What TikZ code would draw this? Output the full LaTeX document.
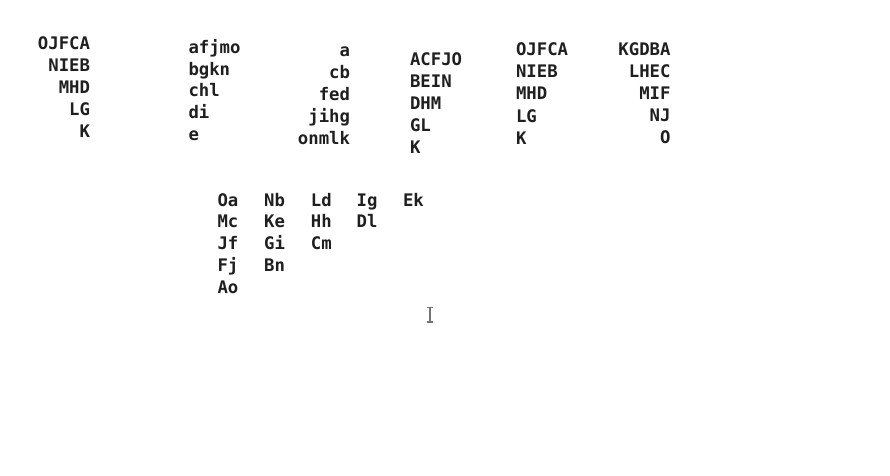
\documentclass[tikz,border=0pt]{standalone}
\usepackage{fontspec}
\newfontfamily\monob{DejaVu Sans Mono}[BoldFont={DejaVu Sans Mono Bold}]
\begin{document}
\begin{tikzpicture}[x=1pt,y=-1pt,
  txt/.style={inner sep=0pt,outer sep=0pt,font=\monob\bfseries\fontsize{17.3pt}{22pt}\selectfont,text=black!88},
  rt/.style={txt,anchor=base east},
  lt/.style={txt,anchor=base west},
  cursorline/.style={draw=black!55,line width=1.1pt}]
\useasboundingbox[fill=white] (0,0) rectangle (890,475);
% block 1 (right aligned)
\foreach \t [count=\i] in {OJFCA,NIEB,MHD,LG,K}
  \node[rt] (a\i) at (90,{49+22.2*(\i-1)}) {\t};
% block 2 (left aligned)
\foreach \t [count=\i] in {afjmo,bgkn,chl,di,e}
  \node[lt] (b\i) at (188.5,{53.3+21.7*(\i-1)}) {\t};
% block 3 (right aligned)
\foreach \t [count=\i] in {a,cb,fed,jihg,onmlk}
  \node[rt] (c\i) at (350,{56.7+21.9*(\i-1)}) {\t};
% block 4 (left aligned)
\foreach \t [count=\i] in {ACFJO,BEIN,DHM,GL,K}
  \node[lt] (d\i) at (410,{65+22.1*(\i-1)}) {\t};
% block 5 (left aligned)
\foreach \t [count=\i] in {OJFCA,NIEB,MHD,LG,K}
  \node[lt] (e\i) at (516,{55.7+22.1*(\i-1)}) {\t};
% block 6 (right aligned)
\foreach \t [count=\i] in {KGDBA,LHEC,MIF,NJ,O}
  \node[rt] (f\i) at (670.5,{55+22.1*(\i-1)}) {\t};
% grid
\foreach \t [count=\i] in {Oa,Mc,Jf,Fj,Ao}
  \node[lt] (g1\i) at (217.5,{206+21.8*(\i-1)}) {\t};
\foreach \t [count=\i] in {Nb,Ke,Gi,Bn}
  \node[lt] (g2\i) at (264.2,{206+21.8*(\i-1)}) {\t};
\foreach \t [count=\i] in {Ld,Hh,Cm}
  \node[lt] (g3\i) at (310.9,{206+21.8*(\i-1)}) {\t};
\foreach \t [count=\i] in {Ig,Dl}
  \node[lt] (g4\i) at (356.6,{206+21.8*(\i-1)}) {\t};
\node[lt] (g51) at (403,206) {Ek};
% text cursor
\coordinate (ct) at (430,307.5);
\coordinate (cb) at (430,322);
\draw[cursorline] (ct) -- (cb);
\draw[cursorline] ([xshift=-3pt]ct) -- ([xshift=3pt]ct);
\draw[cursorline] ([xshift=-3pt]cb) -- ([xshift=3pt]cb);
\end{tikzpicture}
\end{document}
